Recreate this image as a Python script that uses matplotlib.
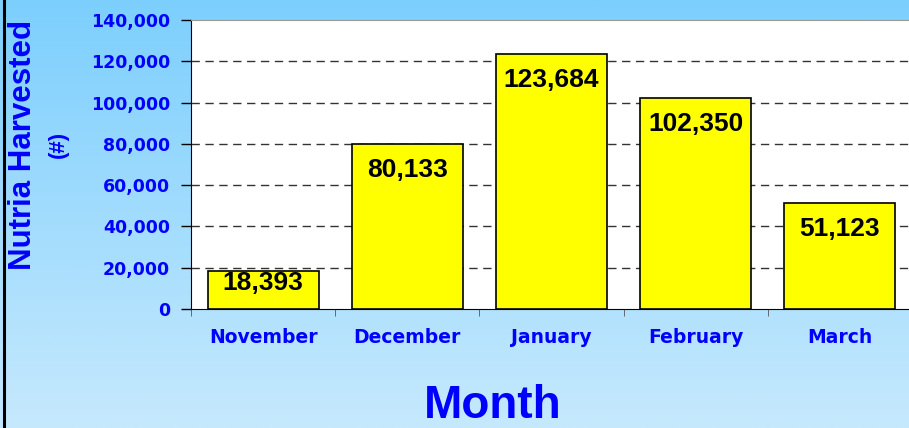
import numpy as np
import matplotlib.pyplot as plt
from matplotlib.colors import LinearSegmentedColormap

plt.rcParams['font.family'] = ['Liberation Sans', 'DejaVu Sans']
plt.rcParams['font.weight'] = 'bold'

# données
mois = ['November', 'December', 'January', 'February', 'March']
recolte = [18393, 80133, 123684, 102350, 51123]
graduations = [0, 20000, 40000, 60000, 80000, 100000, 120000, 140000]

bleu = '#0000FF'

fig = plt.figure(figsize=(9.09, 4.28), dpi=100)

# fond en dégradé bleu clair
fond = fig.add_axes([0, 0, 1, 1], zorder=0)
degrade = LinearSegmentedColormap.from_list('ciel', ['#7CCFFD', '#C6E9FD'])
fond.imshow(np.linspace(0, 1, 256).reshape(-1, 1), aspect='auto', cmap=degrade,
            extent=[0, 1, 0, 1])
fond.plot([0.0045, 0.0045], [0, 1], color='black', lw=2.2)
fond.set_xlim(0, 1)
fond.set_ylim(0, 1)
fond.axis('off')

ax = fig.add_axes([191 / 909, 1 - 309 / 428, 721 / 909, 289 / 428], zorder=1)
ax.set_facecolor('white')

x = np.arange(len(mois))
barres = ax.bar(x, recolte, width=0.77, color='#FFFF00', edgecolor='black', lw=1.2, zorder=3)

ax.set_xlim(-0.5, len(mois) - 0.5)
ax.set_ylim(0, 140000)
ax.set_yticks(graduations)
ax.set_yticklabels([f'{v:,}' for v in graduations], color=bleu, fontsize=12.5,
                   fontweight='bold', family='DejaVu Sans')
ax.set_xticks(x)
ax.set_xticklabels(mois, color=bleu, fontsize=13.5, fontweight='bold', family='DejaVu Sans')
ax.set_xticks(np.arange(-0.5, len(mois)), minor=True)
ax.tick_params(axis='x', which='major', length=0, pad=14)
ax.tick_params(axis='x', which='minor', length=5, color='#555555', direction='out')
ax.tick_params(axis='y', length=7, width=1, color='black', pad=8)

for g in graduations[1:-1]:
    ax.axhline(g, color='#333333', lw=1, ls=(0, (6, 4)), zorder=1)

ax.spines['left'].set_color('black')
ax.spines['bottom'].set_color('black')
ax.spines['top'].set_color('#999999')
ax.spines['right'].set_visible(False)

# étiquettes de valeurs à l'intérieur du haut des barres
px_par_unite = 289 / 140000
for xi, v in zip(x, recolte):
    h = v * px_par_unite
    decal = min(26, h - 26)
    ax.annotate(f'{v:,}', (xi, v), xytext=(0, -decal * 0.72), textcoords='offset points',
                ha='center', va='center', fontsize=19, fontweight='bold', color='black', zorder=4)

fig.text(493 / 909, 1 - 418 / 428, 'Month', ha='center', va='baseline',
         fontsize=33, fontweight='bold', color=bleu)
fig.text(23 / 909, 1 - 145 / 428, 'Nutria Harvested', rotation=90, ha='center', va='center',
         fontsize=22.5, fontweight='bold', color=bleu)
fig.text(58 / 909, 1 - 144 / 428, '(#)', rotation=90, ha='center', va='center',
         fontsize=16, fontweight='bold', color=bleu)

fig.savefig('out.png', dpi=100)
